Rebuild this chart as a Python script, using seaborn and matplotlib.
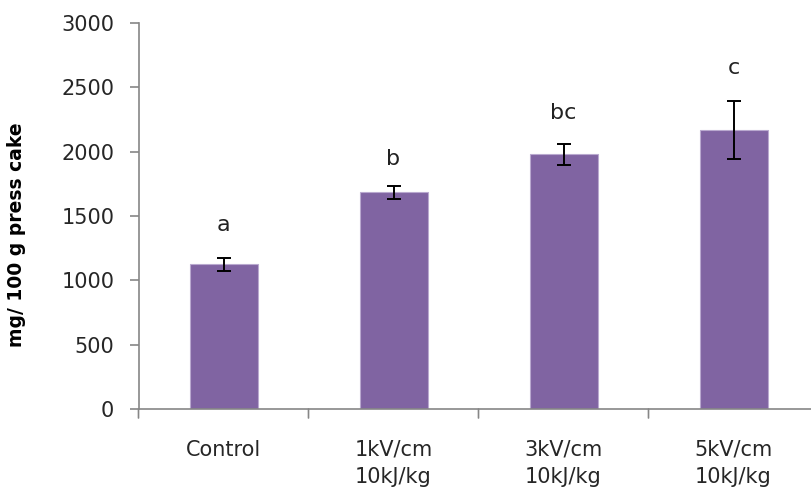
import matplotlib
matplotlib.use("Agg")
import matplotlib.pyplot as plt
import matplotlib.transforms as mtrans
import seaborn as sns
import pandas as pd

categories = ["Control", "1kV/cm\n10kJ/kg", "3kV/cm\n10kJ/kg", "5kV/cm\n10kJ/kg"]
values = [1125, 1684, 1979, 2166]
errors = [50, 52, 80, 226]
letters = ["a", "b", "bc", "c"]
letter_y = [1430, 1943, 2303, 2650]
yticks = [0, 500, 1000, 1500, 2000, 2500, 3000]

sns.set_style("white")
plt.rcParams["font.family"] = ["DejaVu Sans"]

W, H = 811, 495
fig = plt.figure(figsize=(W / 100, H / 100), dpi=100)
left, right_edge, bottom_px, top_px = 138.5, 811, 409, 23
cat_w = 170.0
ax = fig.add_axes([left / W, (H - bottom_px) / H, (right_edge - left) / W, (bottom_px - top_px) / H])

df = pd.DataFrame({"cat": categories, "val": values})
sns.barplot(data=df, x="cat", y="val", color="#8064A2", saturation=1, width=0.4,
            edgecolor="#b9a9cf", linewidth=0.8, errorbar=None, ax=ax)
ax.errorbar(range(len(values)), values, yerr=errors, fmt="none", ecolor="black",
            elinewidth=1.4, capsize=4.7, capthick=1.4, zorder=5)

for i, (lab, ly) in enumerate(zip(letters, letter_y)):
    ax.text(i, ly, lab, ha="center", va="center", fontsize=16, color="#222222")

ax.set_xlim(-0.5, -0.5 + (right_edge - left) / cat_w)
ax.set_ylim(0, 3000)
ax.set_yticks(yticks)
ax.set_yticklabels([str(t) for t in yticks])
ax.set_xticks(range(len(categories)))
ax.set_xticklabels(categories, linespacing=1.45)
ax.tick_params(axis="x", length=0, pad=22, labelsize=15, colors="#262626")
ax.tick_params(axis="y", length=6.5, width=1.2, color="#868686", direction="out",
               pad=11, labelsize=15, labelcolor="#262626")
ax.yaxis.set_ticks_position("left")

# category separator ticks on the x axis
trans = mtrans.blended_transform_factory(ax.transData, ax.transAxes)
for xb in [-0.5, 0.5, 1.5, 2.5]:
    ax.annotate("", xy=(xb, 0), xycoords=trans, xytext=(xb, -9 / (bottom_px - top_px)),
                textcoords=trans, annotation_clip=False,
                arrowprops=dict(arrowstyle="-", color="#868686", lw=1.2,
                                shrinkA=0, shrinkB=0))

for s in ["top", "right"]:
    ax.spines[s].set_visible(False)
for s in ["left", "bottom"]:
    ax.spines[s].set_color("#868686")
    ax.spines[s].set_linewidth(1.2)

ax.set_xlabel("")
ax.set_ylabel("mg/ 100 g press cake", fontsize=13.5, fontweight="bold", color="black")
ax.yaxis.set_label_coords(-(left - 26) / (right_edge - left), 0.451)

fig.savefig("out.png", dpi=100)
